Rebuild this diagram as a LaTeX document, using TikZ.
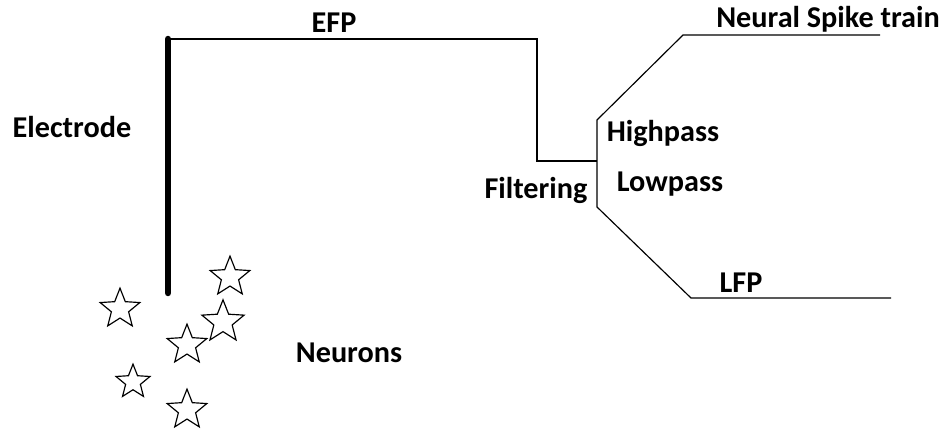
\documentclass[tikz,border=0pt]{standalone}
\usepackage{fontspec}
\setmainfont{Carlito}
\usetikzlibrary{shapes.geometric}

\tikzset{
    lbl/.style={font=\bfseries\fontsize{25.8}{30}\selectfont, inner sep=0pt},
    wire/.style={line width=1pt},
    neuron/.style={star, star points=5, star point ratio=2.3, draw, line width=1pt, inner sep=0pt, minimum size=#1},
    neuron/.default=1.25cm
}

\begin{document}
\begin{tikzpicture}[x=0.03cm, y=-0.03cm]
        \useasboundingbox (0,0) rectangle (944,430);

        % electrode and signal path
        \coordinate (etop) at (168,39);
        \coordinate (ebot) at (168,293);
        \coordinate (c1) at (537,39);
        \coordinate (c2) at (537,161);
        \coordinate (fj) at (597,161);
        \coordinate (hi) at (597,120);
        \coordinate (lo) at (597,207);
        \coordinate (hi2) at (683,35);
        \coordinate (hiend) at (880,35);
        \coordinate (lo2) at (691,298);
        \coordinate (loend) at (891,298);

        \draw[line width=5.5pt, line cap=round] (etop) -- (ebot);
        \draw[wire] (etop) -- (c1) -- (c2) -- (fj);
        \draw[wire] (hiend) -- (hi2) -- (hi) -- (lo) -- (lo2) -- (loend);

        \node[lbl] (efp) at (334,23) {EFP};
        \node[lbl] (electrode) at (72,127) {Electrode};
        \node[lbl] (spike) at (828,19) {Neural Spike train};
        \node[lbl] (high) at (663,133) {Highpass};
        \node[lbl] (low) at (670,184) {Lowpass};
        \node[lbl] (filt) at (536,190) {Filtering};
        \node[lbl] (lfp) at (741,283) {LFP};
        \node[lbl] (neurons) at (349,353) {Neurons};

        % neurons
        \node[neuron] (n1) at (230,277) {};
        \node[neuron] (n2) at (120,309) {};
        \node[neuron=1.33cm] (n3) at (223,322) {};
        \node[neuron] (n4) at (187,345) {};
        \node[neuron=1.07cm] (n5) at (133,382) {};
        \node[neuron] (n6) at (187,410) {};
    \end{tikzpicture}
\end{document}
